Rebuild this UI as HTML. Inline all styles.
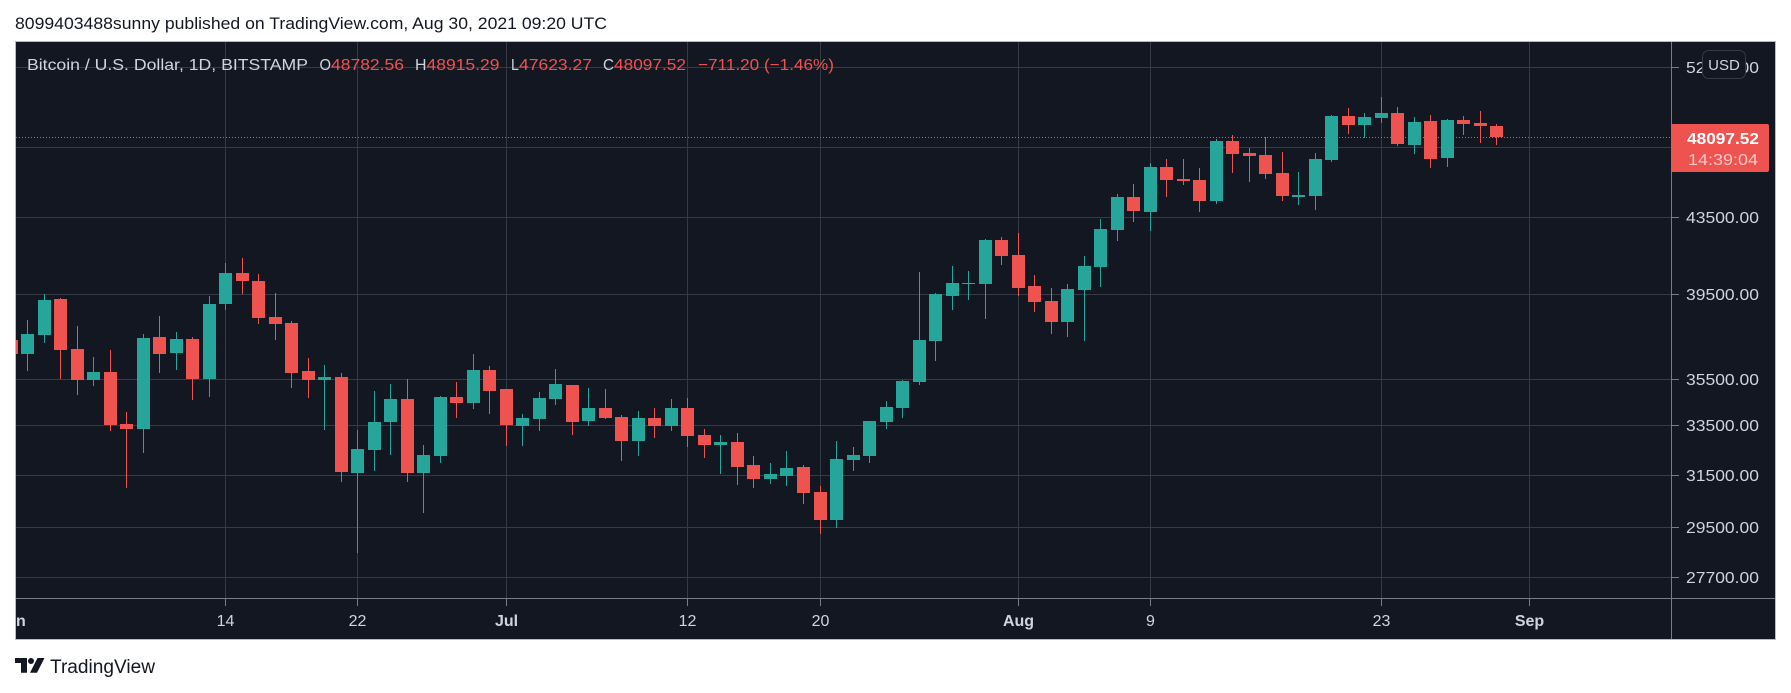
<!DOCTYPE html>
<html lang="en">
<head>
<meta charset="utf-8">
<title>Bitcoin / U.S. Dollar chart</title>
<style>
  html, body { margin: 0; padding: 0; background: #ffffff; }
  body { width: 1791px; height: 693px; overflow: hidden; }
  svg { display: block; font-family: "Liberation Sans", Arial, sans-serif; }
</style>
</head>
<body>
<svg id="chart" width="1791" height="693" viewBox="0 0 1791 693" xmlns="http://www.w3.org/2000/svg">
  <defs>
    <clipPath id="plot-clip"><rect x="16" y="42" width="1655" height="556"></rect></clipPath>
    <clipPath id="time-clip"><rect x="16" y="599" width="1655" height="40"></rect></clipPath>
  </defs>
  <text x="15" y="29" font-size="17" fill="#131722" textLength="592" lengthAdjust="spacingAndGlyphs">8099403488sunny published on TradingView.com, Aug 30, 2021 09:20 UTC</text>
  <rect x="15.5" y="41.5" width="1760" height="598" fill="#131722" stroke="#b8bbc4" stroke-width="1"></rect>
  <g id="grid-layer" clip-path="url(#plot-clip)"></g>
  <g id="axis-lines">
    <line x1="1671.5" y1="42" x2="1671.5" y2="639" stroke="#787b86"></line>
    <line x1="16" y1="598.5" x2="1775" y2="598.5" stroke="#787b86"></line>
  </g>
  <g id="time-labels" clip-path="url(#time-clip)"></g>
  <g id="price-labels"></g>
  <g id="price-line-layer"></g>
  <g id="candles" clip-path="url(#plot-clip)"></g>
  <g id="legend" font-size="16">
    <text x="27" y="70" fill="#d1d4dc" textLength="281" lengthAdjust="spacingAndGlyphs">Bitcoin / U.S. Dollar, 1D, BITSTAMP</text>
    <text x="319.5" y="70" fill="#d1d4dc" textLength="11.5" lengthAdjust="spacingAndGlyphs">O</text>
    <text x="331" y="70" fill="#ef5350" textLength="73" lengthAdjust="spacingAndGlyphs">48782.56</text>
    <text x="415" y="70" fill="#d1d4dc" textLength="11.5" lengthAdjust="spacingAndGlyphs">H</text>
    <text x="426.5" y="70" fill="#ef5350" textLength="73" lengthAdjust="spacingAndGlyphs">48915.29</text>
    <text x="511" y="70" fill="#d1d4dc" textLength="8" lengthAdjust="spacingAndGlyphs">L</text>
    <text x="519" y="70" fill="#ef5350" textLength="73" lengthAdjust="spacingAndGlyphs">47623.27</text>
    <text x="603" y="70" fill="#d1d4dc" textLength="11" lengthAdjust="spacingAndGlyphs">C</text>
    <text x="614" y="70" fill="#ef5350" textLength="72" lengthAdjust="spacingAndGlyphs">48097.52</text>
    <text x="698" y="70" fill="#ef5350" textLength="136" lengthAdjust="spacingAndGlyphs">−711.20 (−1.46%)</text>
  </g>
  <g id="price-tag"></g>
  <g>
    <rect x="1702.5" y="50.5" width="43" height="28" rx="6" ry="6" fill="#131722" stroke="#363a45"></rect>
    <text x="1724" y="70" font-size="15" fill="#d1d4dc" text-anchor="middle">USD</text>
  </g>
  <g>
    <path d="M15 658H27V672.7H21V663H15Z" fill="#131722"></path>
    <circle cx="31" cy="661" r="3" fill="#131722"></circle>
    <path d="M37.5 658H44.5L37 672.7H30Z" fill="#131722"></path>
    <text x="50" y="673" font-size="19" fill="#131722" textLength="105" lengthAdjust="spacingAndGlyphs">TradingView</text>
  </g>
</svg>
<script>
const categories = [
  "Jun 1","Jun 2","Jun 3","Jun 4","Jun 5","Jun 6","Jun 7","Jun 8","Jun 9","Jun 10",
  "Jun 11","Jun 12","Jun 13","Jun 14","Jun 15","Jun 16","Jun 17","Jun 18","Jun 19","Jun 20",
  "Jun 21","Jun 22","Jun 23","Jun 24","Jun 25","Jun 26","Jun 27","Jun 28","Jun 29","Jun 30",
  "Jul 1","Jul 2","Jul 3","Jul 4","Jul 5","Jul 6","Jul 7","Jul 8","Jul 9","Jul 10",
  "Jul 11","Jul 12","Jul 13","Jul 14","Jul 15","Jul 16","Jul 17","Jul 18","Jul 19","Jul 20",
  "Jul 21","Jul 22","Jul 23","Jul 24","Jul 25","Jul 26","Jul 27","Jul 28","Jul 29","Jul 30","Jul 31",
  "Aug 1","Aug 2","Aug 3","Aug 4","Aug 5","Aug 6","Aug 7","Aug 8","Aug 9","Aug 10",
  "Aug 11","Aug 12","Aug 13","Aug 14","Aug 15","Aug 16","Aug 17","Aug 18","Aug 19","Aug 20",
  "Aug 21","Aug 22","Aug 23","Aug 24","Aug 25","Aug 26","Aug 27","Aug 28","Aug 29","Aug 30"
];
const opens = [
  37310,36661,37546,39278,36892,35485,35843,33581,33371,37451,
  36707,37357,35530,39033,40579,40174,38402,38114,35888,35485,
  35619,31580,32504,33665,34650,31580,32261,34737,34477,35933,
  35087,33497,33791,34650,35264,33707,34261,33876,32873,33834,
  33497,34261,33121,32709,32832,31899,31343,31462,31819,30837,
  29773,32099,32261,33665,34261,35397,37263,39426,40023,40023,42292,
  41505,39922,39179,38162,39723,40886,42825,44634,43803,46345,
  45653,45595,44410,47879,47165,47047,45997,44634,44690,46752,
  49404,48850,49280,49590,47640,49094,46870,49156,48972,48782.56
];
const highs = [
  38019,38257,39525,39327,37971,36524,36845,34090,37593,38450,
  37687,37451,39426,41089,41349,40528,39575,38209,36478,36160,
  35799,33329,35000,35308,35530,32709,34781,35397,36661,36114,
  35100,34005,34956,35978,35270,35131,35087,33962,34132,34261,
  34650,34693,33371,33121,33204,32261,31979,32463,31899,31070,
  32873,32627,33720,34563,35485,40630,39575,40937,40680,42345,42452,
  42665,40477,39822,40023,41453,43420,44802,45368,46575,46811,
  46811,46286,48000,48242,47462,48121,47224,46054,47165,49466,
  49902,49590,50595,49965,49342,49466,49218,49404,49714,48915.29
];
const lows = [
  36114,35888,37171,35530,34824,35220,33288,30992,32382,35799,
  35933,34606,34737,38740,39525,38067,37310,35131,34693,33329,
  31226,28567,31659,32301,31226,30036,31979,33834,34218,34005,
  32668,32668,33288,34390,33121,33497,33791,32059,32261,32997,
  33288,32627,32180,31541,31109,30992,31148,31070,30377,29256,
  29476,31659,31979,33371,33834,35264,36341,38740,39228,38305,40988,
  39426,38643,37593,37451,37263,39872,42239,43256,42772,44634,
  45311,43803,44242,45997,45481,45653,44410,44189,43912,46634,
  48302,48060,48972,47581,47105,46286,46345,48242,47760,47623.27
];
const closes = [
  36661,37593,39228,36845,35485,35843,33539,33371,37404,36661,
  37357,35530,39033,40579,40174,38354,38067,35799,35485,35619,
  31620,32545,33665,34650,31580,32301,34737,34477,35933,35000,
  33539,33834,34693,35308,33665,34261,33834,32873,33834,33497,
  34261,33080,32709,32832,31819,31343,31541,31779,30799,29773,
  32139,32301,33707,34304,35441,37310,39525,40073,40073,42292,41453,
  39822,39130,38162,39772,40937,42879,44634,43857,46345,45595,
  45538,44410,47879,47105,46988,45940,44690,44746,46811,49404,
  48850,49342,49590,47700,49032,46811,49156,48911,48789,48097.52
];
const priceTicks = [52500,47500,43500,39500,35500,33500,31500,29500,27700];
const timeTickLabels = ["Jun","14","22","Jul","12","20","Aug","9","23","Sep"];
const timeTickDays = [0,13,21,30,41,49,61,69,83,92];
const countdownText = "14:39:04";

const NS = "http://www.w3.org/2000/svg";
const upColor = "#26a69a";
const downColor = "#ef5350";
const gridColor = "#363a45";
const tickColor = "#787b86";
const labelColor = "#d1d4dc";

function yScale(price) {
  return 294.5 + 798 * Math.log(39500 / price);
}
function xScale(dayIndex) {
  return Math.round(225.29 + 16.506 * (dayIndex - 13));
}
function make(tag, attrs, parent) {
  const el = document.createElementNS(NS, tag);
  for (const k in attrs) el.setAttribute(k, attrs[k]);
  parent.appendChild(el);
  return el;
}

const gridLayer = document.getElementById("grid-layer");
const priceLabels = document.getElementById("price-labels");
const timeLabels = document.getElementById("time-labels");
const candleLayer = document.getElementById("candles");
const priceLineLayer = document.getElementById("price-line-layer");
const priceTag = document.getElementById("price-tag");

priceTicks.forEach(function (tick) {
  const row = Math.floor(yScale(tick)) + 0.5;
  const gridLine = make("line", {x1: 16, x2: 1671, y1: row, y2: row, stroke: gridColor}, gridLayer);
  
  
  const tickMark = make("line", {x1: 1671, x2: 1679, y1: row, y2: row, stroke: tickColor}, priceLabels);
  
  
  const label = make("text", {x: 1686, y: row + 5.7, "font-size": 16, fill: labelColor, textLength: 73, lengthAdjust: "spacingAndGlyphs"}, priceLabels);
  label.textContent = tick.toFixed(2);
  
  
});

timeTickLabels.forEach(function (text, i) {
  const col = xScale(timeTickDays[i]) + 0.5;
  const gridLine = make("line", {x1: col, x2: col, y1: 42, y2: 598, stroke: gridColor}, gridLayer);
  
  
  const tickMark = make("line", {x1: col, x2: col, y1: 599, y2: 606, stroke: tickColor}, timeLabels);
  
  
  const label = make("text", {x: col, y: 626, "font-size": 16, fill: labelColor, "text-anchor": "middle", "font-weight": /[A-Za-z]/.test(text) ? "bold" : "normal"}, timeLabels);
  label.textContent = text;
  
  
});

const lastClose = closes[closes.length - 1];
const lastOpen = opens[opens.length - 1];
const lastRow = Math.floor(yScale(lastClose)) + 0.5;
const lastColor = lastClose >= lastOpen ? upColor : downColor;
const priceLine = make("line", {x1: 16, x2: 1671, y1: lastRow, y2: lastRow, stroke: lastColor, "stroke-dasharray": "1 2"}, priceLineLayer);



categories.forEach(function (day, i) {
  const col = xScale(i);
  const color = closes[i] >= opens[i] ? upColor : downColor;
  const bodyTop = Math.round(yScale(Math.max(opens[i], closes[i])));
  const bodyBottom = Math.round(yScale(Math.min(opens[i], closes[i])));
  const wick = make("rect", {
    x: col, width: 1,
    y: Math.round(yScale(highs[i])),
    height: Math.max(1, Math.round(yScale(lows[i])) - Math.round(yScale(highs[i]))),
    fill: color
  }, candleLayer);
  
  
  const body = make("rect", {
    x: col - 6, width: 13,
    y: bodyTop,
    height: Math.max(1, bodyBottom - bodyTop),
    fill: color
  }, candleLayer);
  
  
  const hint = make("title", {}, body);
  hint.textContent = day;
});

const tagTop = Math.floor(yScale(lastClose)) - 13;
const tagShape = make("path", {
  d: "M1671 " + tagTop + "H1767a2 2 0 0 1 2 2V" + (tagTop + 46) + "a2 2 0 0 1 -2 2H1671Z",
  fill: lastColor
}, priceTag);


const tagPrice = make("text", {x: 1687, y: tagTop + 20, "font-size": 16, "font-weight": "bold", fill: "#ffffff", textLength: 72, lengthAdjust: "spacingAndGlyphs"}, priceTag);
tagPrice.textContent = lastClose.toFixed(2);


const tagTimer = make("text", {x: 1688, y: tagTop + 41, "font-size": 16, fill: "#fbc9c8", textLength: 70, lengthAdjust: "spacingAndGlyphs"}, priceTag);
tagTimer.textContent = countdownText;


</script>
</body>
</html>
